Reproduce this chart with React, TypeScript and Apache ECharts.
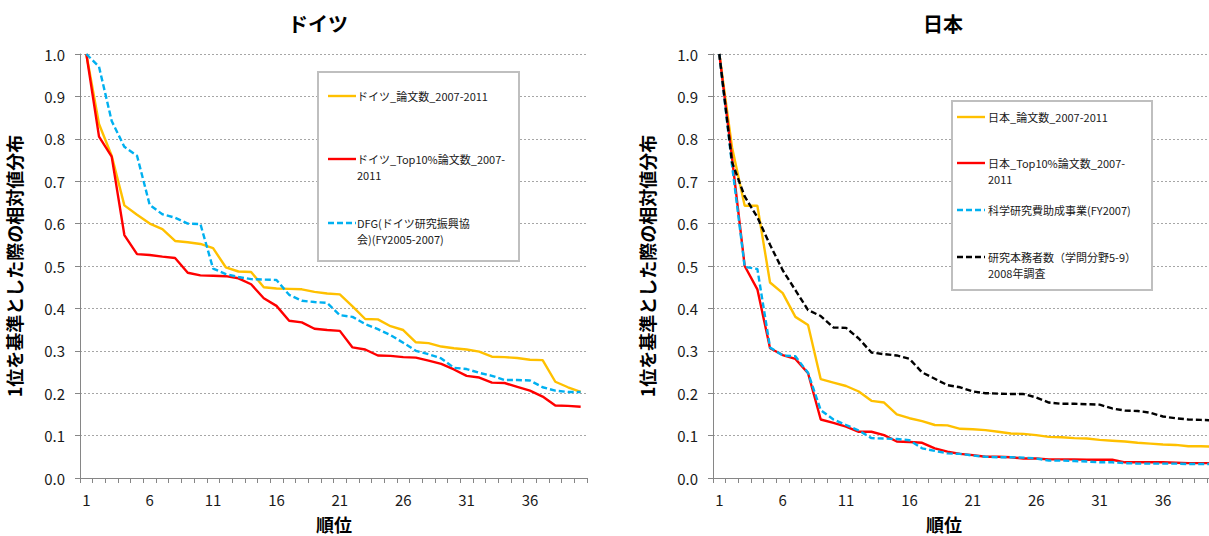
import React, { useEffect, useRef } from "react";
import * as echarts from "echarts";

const ranks = [
  "1", "2", "3", "4", "5", "6", "7", "8", "9", "10",
  "11", "12", "13", "14", "15", "16", "17", "18", "19", "20",
  "21", "22", "23", "24", "25", "26", "27", "28", "29", "30",
  "31", "32", "33", "34", "35", "36", "37", "38", "39", "40",
];

const chartTitles = ["ドイツ", "日本"];
const xAxisTitle = "順位";
const yAxisTitle = "1位を基準とした際の相対値分布";

// ドイツ
const deNames = [
  "ドイツ_論文数_2007-2011",
  "ドイツ_Top10%論文数_2007-2011",
  "DFG(ドイツ研究振興協会)(FY2005-2007)",
];
const deLegendLabels = [
  "ドイツ_論文数_2007-2011",
  "ドイツ_Top10%論文数_2007-\n2011",
  "DFG(ドイツ研究振興協\n会)(FY2005-2007)",
];
const dePapers = [
  1.0, 0.835, 0.76, 0.643, 0.621, 0.6, 0.587, 0.559, 0.556, 0.552,
  0.542, 0.497, 0.487, 0.486, 0.45, 0.447, 0.446, 0.445, 0.439, 0.435,
  0.433, 0.405, 0.375, 0.374, 0.358, 0.349, 0.32, 0.318, 0.31, 0.306,
  0.303, 0.298, 0.286, 0.285, 0.283, 0.279, 0.278, 0.227, 0.214, 0.203,
];
const deTop10 = [
  1.0, 0.805, 0.758, 0.573, 0.528, 0.526, 0.522, 0.519, 0.484, 0.478,
  0.477, 0.476, 0.471, 0.457, 0.424, 0.406, 0.371, 0.367, 0.352, 0.349,
  0.347, 0.308, 0.303, 0.289, 0.288, 0.285, 0.284, 0.277, 0.269, 0.256,
  0.241, 0.237, 0.225, 0.224, 0.215, 0.206, 0.192, 0.171, 0.17, 0.168,
];
const deDFG = [
  1.0, 0.97, 0.842, 0.781, 0.76, 0.644, 0.622, 0.614, 0.6, 0.599,
  0.494, 0.481, 0.474, 0.469, 0.468, 0.467, 0.432, 0.418, 0.415, 0.413,
  0.384, 0.38, 0.363, 0.351, 0.337, 0.319, 0.3, 0.292, 0.282, 0.26,
  0.257, 0.248, 0.241, 0.231, 0.231, 0.23, 0.214, 0.206, 0.203, 0.203,
];

// 日本
const jpNames = [
  "日本_論文数_2007-2011",
  "日本_Top10%論文数_2007-2011",
  "科学研究費助成事業(FY2007)",
  "研究本務者数（学問分野5-9）2008年調査",
];
const jpLegendLabels = [
  "日本_論文数_2007-2011",
  "日本_Top10%論文数_2007-\n2011",
  "科学研究費助成事業(FY2007)",
  "研究本務者数（学問分野5-9）\n2008年調査",
];
const jpPapers = [
  1.0, 0.78, 0.642, 0.642, 0.461, 0.436, 0.38, 0.361, 0.233, 0.225,
  0.217, 0.204, 0.182, 0.178, 0.15, 0.141, 0.134, 0.125, 0.124, 0.116,
  0.115, 0.113, 0.109, 0.105, 0.104, 0.101, 0.097, 0.096, 0.094, 0.093,
  0.09, 0.088, 0.086, 0.083, 0.081, 0.079, 0.078, 0.075, 0.075, 0.074,
];
const jpTop10 = [
  1.0, 0.755, 0.5, 0.445, 0.306, 0.29, 0.281, 0.247, 0.138, 0.13,
  0.121, 0.109, 0.109, 0.101, 0.086, 0.085, 0.083, 0.07, 0.062, 0.057,
  0.054, 0.05, 0.05, 0.049, 0.046, 0.046, 0.044, 0.044, 0.044, 0.043,
  0.043, 0.043, 0.037, 0.037, 0.037, 0.037, 0.036, 0.035, 0.035, 0.035,
];
const jpKakenhi = [
  1.0, 0.738, 0.498, 0.493, 0.308, 0.289, 0.287, 0.248, 0.16, 0.138,
  0.125, 0.112, 0.094, 0.093, 0.092, 0.089, 0.07, 0.064, 0.058, 0.057,
  0.053, 0.05, 0.049, 0.049, 0.048, 0.046, 0.041, 0.041, 0.04, 0.039,
  0.037, 0.037, 0.035, 0.034, 0.034, 0.034, 0.034, 0.033, 0.033, 0.033,
];
const jpResearchers = [
  1.0, 0.745, 0.664, 0.615, 0.55, 0.49, 0.443, 0.396, 0.382, 0.355,
  0.354, 0.329, 0.296, 0.292, 0.289, 0.281, 0.249, 0.234, 0.219, 0.214,
  0.204, 0.2, 0.199, 0.198, 0.198, 0.19, 0.178, 0.175, 0.175, 0.174,
  0.173, 0.164, 0.159, 0.158, 0.154, 0.145, 0.141, 0.138, 0.137, 0.136,
];

const FONT = "'Noto Sans CJK JP', 'Noto Sans', sans-serif";
const AXIS_COLOR = "#868686";

const YELLOW = "#FFC000";
const RED = "#FF0000";
const BLUE = "#00B0F0";
const BLACK = "#000000";
const DASH = [6, 3];

type Style = { color: string; dashed: boolean };
const deStyles: Style[] = [
  { color: YELLOW, dashed: false },
  { color: RED, dashed: false },
  { color: BLUE, dashed: true },
];
const jpStyles: Style[] = [
  { color: YELLOW, dashed: false },
  { color: RED, dashed: false },
  { color: BLUE, dashed: true },
  { color: BLACK, dashed: true },
];

function makeXAxis(gridIndex: number) {
  return {
    gridIndex,
    type: "category",
    data: ranks,
    boundaryGap: true,
    axisLine: { show: true, lineStyle: { color: AXIS_COLOR, width: 1 } },
    axisTick: { show: true, interval: 0, length: 5, lineStyle: { color: AXIS_COLOR } },
    axisLabel: { interval: 4, margin: 14, fontSize: 15, color: "#1a1a1a", fontFamily: FONT },
    splitLine: { show: false },
  };
}

function makeYAxis(gridIndex: number) {
  return {
    gridIndex,
    type: "value",
    min: 0,
    max: 1,
    interval: 0.1,
    name: yAxisTitle,
    nameLocation: "middle",
    nameRotate: 90,
    nameGap: 57,
    nameTextStyle: { fontSize: 18, fontWeight: "bold", color: "#000", fontFamily: FONT },
    axisLine: { show: true, lineStyle: { color: AXIS_COLOR, width: 1 } },
    axisTick: { show: true, length: 5, lineStyle: { color: AXIS_COLOR } },
    axisLabel: {
      margin: 15,
      fontSize: 15,
      color: "#1a1a1a",
      fontFamily: FONT,
      formatter: (v: number) => v.toFixed(1),
    },
    splitLine: { show: true, lineStyle: { color: "#a6a6a6", width: 1, type: [2, 2] } },
  };
}

function makeSeries(name: string, data: number[], st: Style, idx: number) {
  return {
    name,
    type: "line",
    xAxisIndex: idx,
    yAxisIndex: idx,
    data,
    symbol: "none",
    showSymbol: false,
    lineStyle: { color: st.color, width: 2.4, type: st.dashed ? DASH : "solid" },
    itemStyle: { color: st.color },
  };
}

function legendGraphics(
  box: { x: number; y: number; w: number; h: number },
  lineX: number,
  textX: number,
  rows: number[],
  labels: string[],
  styles: Style[]
) {
  const els: any[] = [
    {
      type: "rect",
      shape: { x: box.x, y: box.y, width: box.w, height: box.h },
      style: { fill: "#ffffff", stroke: "#bfbfbf", lineWidth: 2 },
      z: 10,
    },
  ];
  rows.forEach((ry, i) => {
    const st = styles[i];
    els.push({
      type: "line",
      shape: { x1: lineX, y1: ry, x2: lineX + 28, y2: ry },
      style: { stroke: st.color, lineWidth: 2.4, lineDash: st.dashed ? DASH : null },
      z: 11,
    });
    els.push({
      type: "text",
      x: textX,
      y: ry - 8,
      style: {
        text: labels[i],
        fontSize: 11,
        lineHeight: 16,
        fontFamily: FONT,
        fill: "#1a1a1a",
        align: "left",
        verticalAlign: "top",
        textAlign: "left",
        textVerticalAlign: "top",
      },
      z: 11,
    });
  });
  return els;
}

function centeredText(text: string, x: number, y: number, size: number) {
  return {
    type: "text",
    x,
    y,
    style: {
      text,
      fontSize: size,
      fontWeight: "bold",
      fontFamily: FONT,
      fill: "#000",
      align: "center",
      verticalAlign: "middle",
      textAlign: "center",
      textVerticalAlign: "middle",
    },
    z: 12,
  };
}

export default function App() {
  const ref = useRef<HTMLDivElement>(null);

  useEffect(() => {
    if (!ref.current) return;
    const chart = echarts.init(ref.current, undefined, { renderer: "svg" });
    const deData = [dePapers, deTop10, deDFG];
    const jpData = [jpPapers, jpTop10, jpKakenhi, jpResearchers];

    const option: any = {
      animation: false,
      backgroundColor: "#ffffff",
      grid: [
        { left: 80, top: 54, width: 507, height: 424, containLabel: false },
        { left: 713, top: 54, width: 507, height: 424, containLabel: false },
      ],
      xAxis: [makeXAxis(0), makeXAxis(1)],
      yAxis: [makeYAxis(0), makeYAxis(1)],
      series: [
        ...deNames.map((n, i) => makeSeries(n, deData[i], deStyles[i], 0)),
        ...jpNames.map((n, i) => makeSeries(n, jpData[i], jpStyles[i], 1)),
      ],
      graphic: [
        centeredText(chartTitles[0], 318, 23, 20),
        centeredText(chartTitles[1], 943, 23, 20),
        centeredText(xAxisTitle, 334, 524, 18),
        centeredText(xAxisTitle, 944, 524, 18),
        ...legendGraphics(
          { x: 318, y: 72, w: 201, h: 189 },
          328,
          357,
          [96, 159, 223],
          deLegendLabels,
          deStyles
        ),
        ...legendGraphics(
          { x: 952, y: 101, w: 200, h: 189 },
          957,
          988,
          [117, 163, 210, 257],
          jpLegendLabels,
          jpStyles
        ),
      ],
    };
    chart.setOption(option);
    return () => {
      chart.dispose();
    };
  }, []);

  return (
    <div
      style={{
        position: "absolute",
        left: 0,
        top: 0,
        width: 1209,
        height: 536,
        overflow: "hidden",
        background: "#fff",
      }}
    >
      <div ref={ref} style={{ width: 1240, height: 536 }} />
    </div>
  );
}
